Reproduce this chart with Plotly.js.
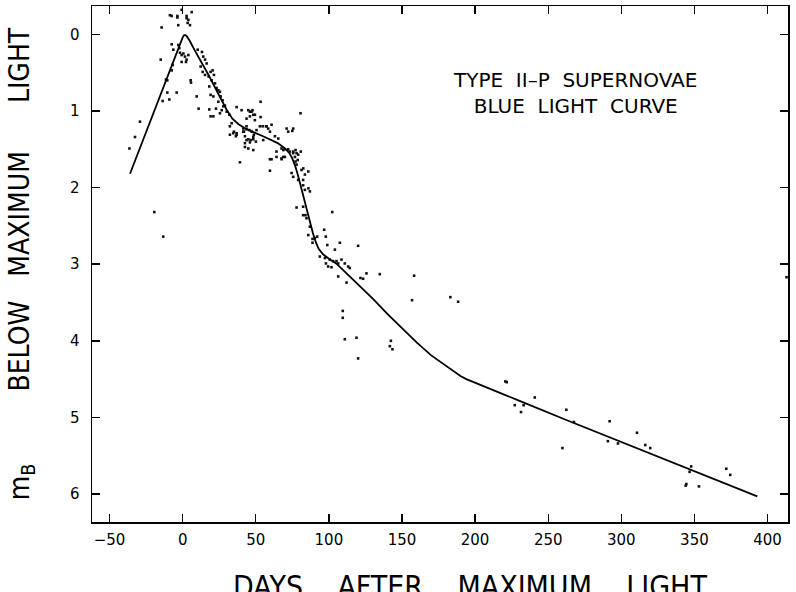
<!DOCTYPE html>
<html>
<head>
<meta charset="utf-8">
<script src="https://cdn.plot.ly/plotly-3.0.1.min.js"></script>
<style>html,body{margin:0;padding:0;background:#fff;overflow:hidden;}#chart{width:796px;height:604px;}</style>
</head>
<body>
<div id="chart"></div>
<script>
// Template blue light curve (days after maximum, magnitudes below maximum)
const curveDays = [-36, -25, -15, -8, -4, -2, 0, 1, 2, 3, 5, 8, 11, 14, 18, 22, 26, 30, 34, 38, 42, 46, 50, 55, 60, 65, 70, 73, 75, 77, 79, 81, 83, 85, 87, 89, 91, 93, 96, 100, 105, 110, 120, 130, 140, 150, 160, 170, 180, 186, 190, 194, 198, 203, 210, 230, 262, 300, 350, 393];
const curveMags = [1.82, 1.27, 0.77, 0.42, 0.22, 0.12, 0.04, 0.01, 0.01, 0.03, 0.09, 0.2, 0.3, 0.4, 0.54, 0.69, 0.84, 0.98, 1.1, 1.17, 1.22, 1.26, 1.29, 1.33, 1.37, 1.42, 1.49, 1.55, 1.62, 1.72, 1.85, 2.0, 2.15, 2.3, 2.45, 2.59, 2.71, 2.8, 2.87, 2.93, 2.99, 3.08, 3.26, 3.45, 3.65, 3.84, 4.02, 4.19, 4.33, 4.41, 4.46, 4.5, 4.53, 4.57, 4.62, 4.78, 5.03, 5.32, 5.7, 6.03];

// Individual observations
const obsDays = [-36.4, -32.6, -29.2, -19.4, -13.3, -15.0, -14.4, -13.7, -11.4, -10.5, -10.5, -9.1, -8.7, -7.5, -7.5, -7.5, -6.8, -6.4, -4.1, -3.6, -3.6, -3.0, -3.0, -2.3, -1.8, -0.7, -0.7, -0.7, 0.5, 1.6, 2.3, 2.7, 2.7, 2.7, 3.4, 3.9, 3.9, 5.0, 5.5, 5.7, 6.2, 9.6, 10.3, 10.9, 12.3, 13.2, 13.7, 14.1, 15.3, 15.3, 16.4, 17.8, 18.2, 18.2, 19.1, 19.1, 19.1, 19.8, 20.5, 21.0, 21.0, 21.4, 22.1, 22.8, 23.2, 24.4, 24.4, 25.5, 25.5, 26.0, 26.7, 27.3, 27.8, 28.9, 30.1, 31.9, 32.3, 32.3, 33.5, 34.6, 35.1, 36.4, 36.9, 36.9, 36.9, 39.2, 40.3, 41.4, 41.5, 41.9, 42.6, 42.6, 42.6, 43.7, 43.7, 43.7, 43.7, 44.9, 44.9, 44.9, 45.6, 46.0, 46.0, 46.0, 46.5, 47.1, 47.2, 47.8, 48.3, 48.3, 48.3, 48.3, 48.7, 49.4, 49.4, 50.1, 50.5, 52.8, 53.3, 53.3, 54.7, 55.1, 57.0, 57.4, 58.5, 59.7, 59.7, 59.7, 60.8, 60.8, 63.1, 64.2, 64.2, 65.4, 67.6, 67.6, 67.7, 68.8, 68.8, 69.9, 69.9, 71.1, 72.2, 72.2, 73.3, 74.5, 75.0, 75.6, 75.6, 75.6, 75.6, 76.8, 77.2, 77.2, 77.9, 77.9, 78.7, 79.0, 79.0, 80.6, 80.8, 81.3, 82.4, 82.4, 82.4, 82.4, 82.5, 83.6, 83.6, 84.0, 84.7, 85.9, 85.9, 86.0, 87.0, 87.0, 88.8, 88.8, 77.9, 90.4, 92.0, 93.8, 96.8, 97.3, 97.9, 98.0, 98.9, 99.5, 100.6, 101.8, 102.3, 102.9, 104.1, 105.2, 106.4, 106.4, 107.5, 108.6, 109.5, 109.5, 110.9, 110.9, 112.1, 113.2, 114.3, 118.9, 120.0, 120.0, 121.6, 123.4, 125.7, 134.8, 141.7, 142.4, 143.5, 156.9, 158.3, 183.1, 188.4, 220.7, 221.6, 227.1, 231.4, 233.2, 240.8, 259.7, 262.4, 267.6, 290.8, 292.0, 297.7, 310.7, 316.4, 319.8, 344.0, 344.5, 346.7, 347.8, 353.1, 371.8, 374.5, 413.0];
const obsMags = [1.49, 1.34, 1.14, 2.32, 2.64, 0.33, -0.09, 0.87, 0.59, 0.60, 0.76, 0.85, -0.25, -0.24, 0.13, 0.47, 0.40, 0.20, 0.76, -0.24, -0.22, -0.12, 0.14, 0.18, 0.24, 0.27, 0.36, -0.32, 0.25, 0.29, 0.36, 0.33, -0.24, -0.21, -0.15, -0.19, 0.27, -0.12, 0.60, 0.63, -0.29, 0.81, 0.20, 0.97, 0.42, 0.23, 0.49, 0.29, 0.33, 0.53, 0.38, 0.55, 0.68, 0.98, 0.49, 0.79, 1.07, 0.60, 0.47, 0.81, 1.07, 0.53, 0.64, 0.97, 0.70, 0.73, 0.88, 0.75, 1.03, 0.81, 0.99, 0.86, 0.94, 0.93, 1.01, 1.05, 1.20, 1.31, 1.16, 1.29, 1.27, 1.33, 0.95, 1.29, 1.31, 1.67, 0.99, 1.27, 1.23, 1.27, 1.33, 1.42, 1.47, 1.10, 1.20, 1.24, 1.38, 0.99, 1.37, 1.49, 1.25, 1.01, 1.07, 1.41, 1.38, 1.01, 1.27, 0.99, 1.05, 1.34, 1.37, 1.51, 1.31, 1.05, 1.12, 1.40, 1.25, 1.20, 0.88, 1.08, 1.20, 1.38, 1.20, 1.20, 1.23, 1.27, 1.63, 1.78, 1.18, 1.63, 1.33, 1.53, 1.60, 1.36, 1.49, 1.62, 1.63, 1.51, 1.60, 1.50, 1.60, 1.23, 1.27, 1.50, 1.53, 1.81, 1.26, 1.23, 1.53, 1.55, 1.86, 1.60, 1.51, 1.66, 1.55, 1.70, 1.64, 1.57, 1.90, 1.03, 1.53, 1.77, 1.90, 1.97, 2.25, 2.36, 1.75, 1.83, 2.03, 2.36, 2.40, 1.79, 2.62, 2.01, 2.05, 2.51, 2.67, 2.72, 2.26, 2.66, 2.64, 2.90, 2.55, 2.92, 2.64, 2.99, 2.75, 3.03, 2.94, 3.04, 2.32, 2.96, 2.81, 2.96, 2.99, 3.16, 2.72, 2.94, 3.61, 3.70, 2.99, 3.98, 3.24, 3.03, 3.05, 3.96, 2.76, 4.23, 3.18, 3.19, 3.12, 3.13, 4.07, 4.00, 4.11, 3.47, 3.15, 3.43, 3.49, 4.53, 4.54, 4.84, 4.93, 4.84, 4.74, 5.40, 4.90, 5.06, 5.31, 5.05, 5.34, 5.20, 5.36, 5.40, 5.89, 5.87, 5.71, 5.64, 5.90, 5.67, 5.75, 3.17];

const xTickVals = [-50, 0, 50, 100, 150, 200, 250, 300, 350, 400];
const yTickVals = [0, 1, 2, 3, 4, 5, 6];

const NB = '\u00A0';
const sp = n => NB.repeat(n);
const xTitleText = '\u200B' + sp(7) + 'DAYS' + sp(4) + 'AFTER' + sp(4) + 'MAXIMUM' + sp(4) + 'LIGHT';
const yTitleText = 'm<sub>B</sub>' + sp(9) + 'BELOW' + sp(3) + 'MAXIMUM' + sp(6) + 'LIGHT';
const noteText = 'TYPE' + sp(2) + 'II\u2013P' + sp(2) + 'SUPERNOVAE<br>BLUE' + sp(2) + 'LIGHT' + sp(2) + 'CURVE';

const traces = [
  {
    type: 'scatter', mode: 'markers',
    x: obsDays, y: obsMags,
    marker: {symbol: 'square', size: 2.6, color: '#111', line: {width: 0}},
    hoverinfo: 'x+y'
  },
  {
    type: 'scatter', mode: 'lines',
    x: curveDays, y: curveMags,
    line: {color: '#000', width: 1.8},
    hoverinfo: 'x+y'
  }
];

const tickFont = {family: 'DejaVu Sans, Liberation Sans, sans-serif', size: 15, color: '#000'};
const xTitleFont = {family: 'DejaVu Sans Condensed, Liberation Sans Narrow, sans-serif', size: 30, color: '#000', weight: 300};
const yTitleFont = {family: 'DejaVu Sans Condensed, Liberation Sans Narrow, sans-serif', size: 28, color: '#000', weight: 300};

const axisCommon = {
  ticks: 'inside', ticklen: 8, tickwidth: 1.4, tickcolor: '#000',
  showline: true, linecolor: '#000', linewidth: 1.5, mirror: 'ticks',
  showgrid: false, zeroline: false, automargin: false,
  tickfont: tickFont
};

const layout = {
  width: 796, height: 604,
  margin: {l: 92, r: 8, t: 6, b: 82},
  paper_bgcolor: '#fff', plot_bgcolor: '#fff',
  showlegend: false,
  xaxis: Object.assign({}, axisCommon, {
    range: [-62, 414], tickmode: 'array', tickvals: xTickVals,
    ticklabelstandoff: 3,
    title: {text: xTitleText, font: xTitleFont, standoff: 34}
  }),
  yaxis: Object.assign({}, axisCommon, {
    range: [6.365, -0.37], tickmode: 'array', tickvals: yTickVals,
    ticklabelstandoff: 8,
    title: {text: yTitleText, font: yTitleFont, standoff: 32}
  }),
  annotations: [{
    x: 268, y: 0.77, xref: 'x', yref: 'y',
    xanchor: 'center', yanchor: 'middle',
    text: noteText, showarrow: false, align: 'center',
    font: {family: 'DejaVu Sans, sans-serif', size: 20, color: '#000'}
  }]
};

Plotly.newPlot('chart', traces, layout, {displayModeBar: false, staticPlot: true});
</script>
</body>
</html>
